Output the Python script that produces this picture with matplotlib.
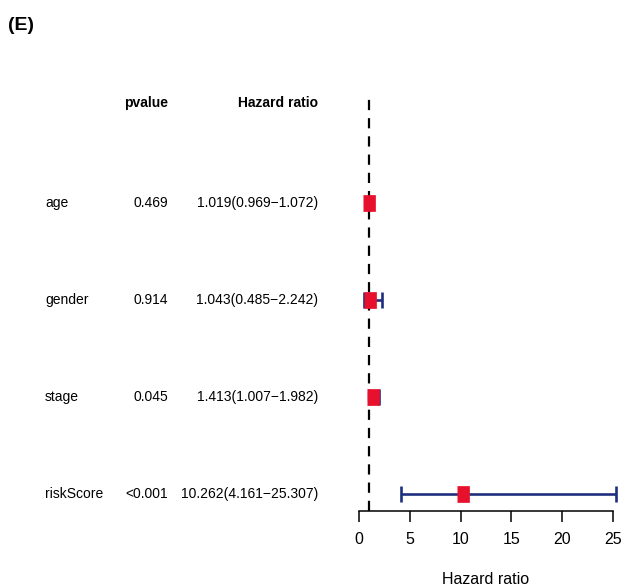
import matplotlib
matplotlib.use("Agg")
import matplotlib.pyplot as plt
from matplotlib.transforms import blended_transform_factory

plt.rcParams['font.family'] = ['Liberation Sans', 'DejaVu Sans']

# multivariate cox results
variables = ['age', 'gender', 'stage', 'riskScore']
pvalues = ['0.469', '0.914', '0.045', '<0.001']
hr = [1.019, 1.043, 1.413, 10.262]
hr_low = [0.969, 0.485, 1.007, 4.161]
hr_high = [1.072, 2.242, 1.982, 25.307]
xticks = [0, 5, 10, 15, 20, 25]

fig = plt.figure(figsize=(6.23, 5.88), dpi=100)
W, H = 623, 588

# forest panel: x 0..25 spans pixels 359..613, axis line at y=511
ax = fig.add_axes([359 / W, (H - 511) / H, (613 - 359) / W, (511 - 96) / H])
n = len(variables)
ypos = [n - i for i in range(n)]
ax.set_xlim(0, 25)
ax.set_ylim(0.825, n + 1.1)

ax.axvline(1, color='black', lw=1.6, ls=(0, (4.6, 3.6)), zorder=1)

ci_col = '#1f2f80'
for y, h, lo, hi in zip(ypos, hr, hr_low, hr_high):
    ax.plot([lo, hi], [y, y], color=ci_col, lw=1.9, solid_capstyle='butt',
            clip_on=False, zorder=2)
    for end in (lo, hi):
        ax.plot([end, end], [y - 0.08, y + 0.08], color=ci_col, lw=1.9,
                solid_capstyle='butt', clip_on=False, zorder=2)
    ax.plot(h, y, marker=[(-1, -1.35), (1, -1.35), (1, 1.35), (-1, 1.35)],
            ms=11, color='#e8112d', mec='#e8112d', mew=0.5, ls='none',
            clip_on=False, zorder=3)

for side in ['top', 'right', 'left']:
    ax.spines[side].set_visible(False)
ax.spines['bottom'].set_bounds(0, 25)
ax.spines['bottom'].set_linewidth(1.1)
ax.set_yticks([])
ax.set_xticks(xticks)
ax.tick_params(axis='x', length=8, width=1.1, labelsize=11.5, pad=7)
ax.set_xlabel('Hazard ratio', fontsize=11.5, labelpad=18)

# table columns on the left, x in figure pixels, y in data rows
tr = blended_transform_factory(fig.transFigure, ax.transData)
head_y = n + 1.03
ax.text(146 / W, head_y, 'pvalue', transform=tr, ha='center', va='center',
        fontsize=10, fontweight='bold')
ax.text(318 / W, head_y, 'Hazard ratio', transform=tr, ha='right', va='center',
        fontsize=10, fontweight='bold')
for y, name, p, h, lo, hi in zip(ypos, variables, pvalues, hr, hr_low, hr_high):
    ax.text(45 / W, y, name, transform=tr, ha='left', va='center', fontsize=10)
    ax.text(168 / W, y, p, transform=tr, ha='right', va='center', fontsize=10)
    ax.text(318 / W, y, f'{h:.3f}({lo:.3f}\u2212{hi:.3f})', transform=tr,
            ha='right', va='center', fontsize=10)

fig.text(8 / W, 1 - 25 / H, '(E)', ha='left', va='center', fontsize=14,
         fontweight='bold')

fig.savefig('out.png', dpi=100)
